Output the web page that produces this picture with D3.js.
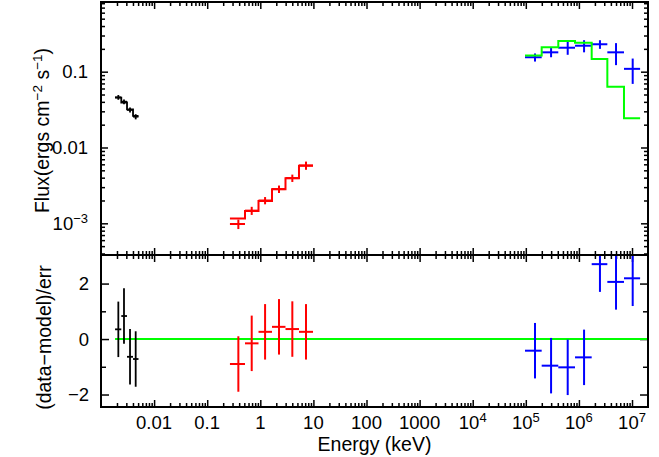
<!DOCTYPE html>
<html><head><meta charset="utf-8">
<script src="https://cdn.jsdelivr.net/npm/d3@7"></script>
<style>body{margin:0;background:#fff} svg{display:block} text{font-family:"Liberation Sans",Arial,Helvetica,sans-serif;fill:#000}</style>
</head><body><svg id="c" width="659" height="457"></svg>
<script>
// ---- data (energies in keV, flux in ergs cm^-2 s^-1) ----
const blackLo    = [0.00184, 0.00241, 0.00309, 0.00401];
const blackHi    = [0.00241, 0.00309, 0.00401, 0.00508];
const blackE     = [0.00212, 0.00271, 0.00352, 0.00450];
const blackFlux  = [0.0459, 0.0402, 0.0313, 0.0255];
const blackErr   = [0.0033, 0.0029, 0.0024, 0.0020];
const blackModel = [0.0455, 0.0392, 0.0318, 0.0262];
const blackResid = [0.35, 0.83, -0.64, -0.72];

const redLo    = [0.268, 0.515, 0.925, 1.66, 2.98, 5.35];
const redHi    = [0.515, 0.925, 1.66, 2.98, 5.35, 9.83];
const redE     = [0.386, 0.689, 1.23, 2.25, 4.01, 7.26];
const redFlux  = [9.8e-4, 1.47e-3, 2.0e-3, 2.83e-3, 3.95e-3, 5.8e-3];
const redErr   = [1.4e-4, 1.8e-4, 2.2e-4, 3.2e-4, 4.4e-4, 7.2e-4];
const redModel = [1.16e-3, 1.45e-3, 1.97e-3, 2.81e-3, 3.93e-3, 5.76e-3];
const redResid = [-0.90, -0.155, 0.26, 0.44, 0.36, 0.26];

const blueLo    = [9.66e4, 1.99e5, 4.09e5, 8.45e5, 1.74e6, 3.43e6, 7.06e6];
const blueHi    = [1.99e5, 4.09e5, 8.45e5, 1.74e6, 3.43e6, 7.06e6, 1.42e7];
const blueE     = [1.49e5, 2.99e5, 6.15e5, 1.25e6, 2.49e6, 5.0e6, 1.03e7];
const blueFlux  = [0.155, 0.180, 0.207, 0.220, 0.230, 0.180, 0.109];
const blueErr   = [0.019, 0.025, 0.040, 0.040, 0.030, 0.058, 0.040];
const greenModel= [0.163, 0.210, 0.254, 0.241, 0.147, 0.0634, 0.0243];
const blueResid = [-0.42, -0.96, -1.02, -0.66, 2.70, 2.06, 2.19];

const xMajor = [0.01, 0.1, 1, 10, 100, 1000, 1e4, 1e5, 1e6, 1e7];
const xMajorLabels = [["0.01",""],["0.1",""],["1",""],["10",""],["100",""],["1000",""],["10","4"],["10","5"],["10","6"],["10","7"]];
const yTopMajor = [1e-3, 0.01, 0.1];
const yTopLabels = [["10","\u22123"],["0.01",""],["0.1",""]];
const yBotMajor = [-2, 0, 2];
const yBotMinor = [-1, 1];
const yBotLabels = ["\u22122","0","2"];

// ---- layout ----
const L=101, R=648, T=2, M=255, B=407;
const svg = d3.select("#c");
const x = d3.scaleLog().domain([1e-3, 2e7]).range([L, R]);
const yTop = d3.scaleLog().domain([3.82e-4, 0.83]).range([M, T]);
const yBot = d3.scaleLinear().domain([-2.45, 3.03]).range([B, M]);

function minorsLog(dom){
  const out=[];
  for(let k=-5;k<=8;k++) for(let m=2;m<=9;m++){const v=m*Math.pow(10,k); if(v>dom[0]&&v<dom[1]) out.push(v);}
  return out;
}
const xMinor = minorsLog(x.domain());
const yTopMinor = minorsLog(yTop.domain());

const defs = svg.append("defs");
defs.append("clipPath").attr("id","clipTop").append("rect").attr("x",L).attr("y",T).attr("width",R-L).attr("height",M-T);
defs.append("clipPath").attr("id","clipBot").append("rect").attr("x",L).attr("y",M).attr("width",R-L).attr("height",B-M);

// ---- ticks via d3 axes ----
const MAJ=7, MIN=4;
function addAxis(gen, tx, ty){
  const g = svg.append("g").attr("transform",`translate(${tx},${ty})`).call(gen);
  g.select(".domain").remove();
  g.selectAll("text").remove();
  g.selectAll("line").attr("stroke","#000").attr("stroke-width",1.5);
}
// x ticks on four horizontal edges
[[d3.axisBottom,B],[d3.axisTop,M],[d3.axisBottom,M],[d3.axisTop,T]].forEach(([f,yy])=>{
  addAxis(f(x).tickValues(xMajor).tickSize(-MAJ).tickFormat(""),0,yy);
  addAxis(f(x).tickValues(xMinor).tickSize(-MIN).tickFormat(""),0,yy);
});
// y ticks top panel
addAxis(d3.axisLeft(yTop).tickValues(yTopMajor).tickSize(-MAJ).tickFormat(""),L,0);
addAxis(d3.axisLeft(yTop).tickValues(yTopMinor).tickSize(-MIN).tickFormat(""),L,0);
addAxis(d3.axisRight(yTop).tickValues(yTopMajor).tickSize(-MAJ).tickFormat(""),R,0);
addAxis(d3.axisRight(yTop).tickValues(yTopMinor).tickSize(-MIN).tickFormat(""),R,0);
// y ticks bottom panel
addAxis(d3.axisLeft(yBot).tickValues(yBotMajor).tickSize(-MAJ-1).tickFormat(""),L,0);
addAxis(d3.axisLeft(yBot).tickValues(yBotMinor).tickSize(-MIN-1).tickFormat(""),L,0);
addAxis(d3.axisRight(yBot).tickValues(yBotMajor).tickSize(-MAJ-1).tickFormat(""),R,0);
addAxis(d3.axisRight(yBot).tickValues(yBotMinor).tickSize(-MIN-1).tickFormat(""),R,0);

// ---- data drawing ----
function drawSet(panel, clip, ys, lo, hi, e, val, err, color, sw){
  const g = svg.append("g").attr("clip-path",`url(#${clip})`).attr("stroke",color).attr("stroke-width",sw).attr("fill","none");
  val.forEach((v,i)=>{
    g.append("line").attr("x1",x(lo[i])).attr("x2",x(hi[i])).attr("y1",ys(v)).attr("y2",ys(v));
    g.append("line").attr("x1",x(e[i])).attr("x2",x(e[i])).attr("y1",ys(v-err[i])).attr("y2",ys(v+err[i]));
  });
}
function drawModel(clip, ys, lo, hi, model, color, sw){
  const pts=[];
  model.forEach((m,i)=>{pts.push([lo[i],m]);pts.push([hi[i],m]);});
  svg.append("path").attr("clip-path",`url(#${clip})`)
    .attr("d", d3.line().x(d=>x(d[0])).y(d=>ys(d[1]))(pts))
    .attr("fill","none").attr("stroke",color).attr("stroke-width",sw);
}
// top panel
drawModel("clipTop", yTop, blackLo, blackHi, blackModel, "#000", 1.8);
drawSet("top","clipTop",yTop,blackLo,blackHi,blackE,blackFlux,blackErr,"#000",1.8);
drawModel("clipTop", yTop, redLo, redHi, redModel, "#ff0000", 2);
drawSet("top","clipTop",yTop,redLo,redHi,redE,redFlux,redErr,"#ff0000",2);
drawSet("top","clipTop",yTop,blueLo,blueHi,blueE,blueFlux,blueErr,"#0000ff",2);
drawModel("clipTop", yTop, blueLo, blueHi, greenModel, "#00ff00", 2);

// bottom panel
const ones = a => a.map(()=>1);
svg.append("line").attr("clip-path","url(#clipBot)")
  .attr("x1",x(blackLo[0])).attr("x2",R).attr("y1",yBot(0)).attr("y2",yBot(0))
  .attr("stroke","#00ff00").attr("stroke-width",2);
drawSet("bot","clipBot",yBot,blackLo,blackHi,blackE,blackResid,ones(blackResid),"#000",1.8);
drawSet("bot","clipBot",yBot,redLo,redHi,redE,redResid,ones(redResid),"#ff0000",2);
drawSet("bot","clipBot",yBot,blueLo,blueHi,blueE,blueResid,ones(blueResid),"#0000ff",2);

// ---- frames ----
svg.append("rect").attr("x",L).attr("y",T).attr("width",R-L).attr("height",M-T).attr("fill","none").attr("stroke","#000").attr("stroke-width",2);
svg.append("rect").attr("x",L).attr("y",M).attr("width",R-L).attr("height",B-M).attr("fill","none").attr("stroke","#000").attr("stroke-width",2);

// ---- labels ----
const TF=18.5, SUP=13;
xMajor.forEach((v,i)=>{
  const t = svg.append("text").attr("x",x(v)).attr("y",429).attr("text-anchor","middle").attr("font-size",TF);
  t.append("tspan").text(xMajorLabels[i][0]);
  if(xMajorLabels[i][1]) t.append("tspan").attr("font-size",SUP).attr("dy",-7).text(xMajorLabels[i][1]);
});
yTopMajor.forEach((v,i)=>{
  const t = svg.append("text").attr("x",88).attr("y",yTop(v)+6.5).attr("text-anchor","end").attr("font-size",TF);
  t.append("tspan").text(yTopLabels[i][0]);
  if(yTopLabels[i][1]) t.append("tspan").attr("font-size",SUP).attr("dy",-7).text(yTopLabels[i][1]);
});
yBotMajor.forEach((v,i)=>{
  svg.append("text").attr("x",89).attr("y",yBot(v)+6.5).attr("text-anchor","end").attr("font-size",TF).text(yBotLabels[i]);
});
svg.append("text").attr("x",(L+R)/2).attr("y",451).attr("text-anchor","middle").attr("font-size",19.5).text("Energy (keV)");
const fl = svg.append("text").attr("transform","translate(48.5,130.5) rotate(-90)").attr("text-anchor","middle").attr("font-size",19.5);
fl.append("tspan").text("Flux(ergs cm");
fl.append("tspan").attr("font-size",13.5).attr("dy",-7).text("\u22122");
fl.append("tspan").attr("dy",7).text(" s");
fl.append("tspan").attr("font-size",13.5).attr("dy",-7).text("\u22121");
fl.append("tspan").attr("dy",7).text(")");
svg.append("text").attr("transform","translate(50.5,337.5) rotate(-90)").attr("text-anchor","middle").attr("font-size",19.5).text("(data\u2212model)/err");
</script></body></html>
